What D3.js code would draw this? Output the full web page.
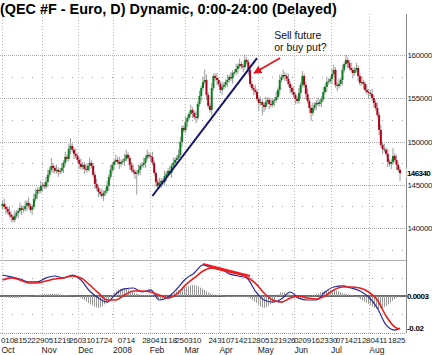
<!DOCTYPE html>
<html><head><meta charset="utf-8">
<script src="https://cdn.jsdelivr.net/npm/d3@7"></script>
<style>body{margin:0;background:#fff} svg{display:block}</style>
</head><body>
<svg id="c" width="432" height="355"></svg>
<script>
// ---------- DATA ----------
const startDate = "2007-10-01", endDate = "2008-08-26";
const holidays = ["2007-11-22","2007-12-25","2008-01-01","2008-01-21","2008-02-18","2008-03-21","2008-05-26","2008-07-04"];
const firstOpen = 142500;
const closes = [
142790,142440,142210,141870,141520,141290,140940,141410,141750,141980,
142330,142100,142210,142560,142910,142560,142100,142440,143370,143950,
144410,144300,144870,144990,144800,145330,146140,146720,147180,146950,
146600,146720,146490,146600,146950,147530,148220,148000,149140,149490,
149030,148570,148330,147870,147410,147060,147300,146830,146720,147180,
147530,147180,146140,145100,144640,144180,143950,143710,144060,144290,
144870,145910,146720,147300,147640,147870,147640,147410,147640,147760,
147990,148450,148100,147300,146720,146490,146260,146370,146720,147180,
147300,147530,148100,148450,148330,148220,147530,146370,145330,144870,
145220,145450,145300,146030,146260,146600,146400,147180,147530,147870,
148100,148450,149950,151570,151300,152260,152720,153190,153650,153300,
152840,152720,154340,155260,156190,156880,157110,155380,154110,153650,
156190,157570,157340,157110,156650,155960,156310,156540,156880,157110,
157460,157300,157920,158040,158380,158730,158960,158700,158610,159420,
159190,158270,156650,156190,155960,155730,154920,154460,154570,154230,
153990,154570,154800,154340,154230,154690,154800,155150,155960,157110,
157460,157690,157570,157230,156650,156190,155730,155380,154920,154690,
155610,156540,157570,156540,155500,154690,153880,153300,153880,154230,
154460,154340,154570,154920,155730,156310,156880,156990,157230,157800,
158270,156540,156420,156650,157110,158270,158960,159420,159070,158500,
158270,157920,158270,158500,157570,156770,156880,156650,155960,155730,
155610,155500,155030,154460,153880,153070,151340,149610,149140,149030,
148570,147640,147410,147640,148330,147870,147300,146720,146340];
const wickHi = [
1,2,1,1,2,1,1,2,1,1, 2,1,1,2,1,2,1,1,2,2, 1,1,2,1,1,2,2,1,3,1, 1,2,1,1,2,1,2,1,2,3,
1,1,2,1,1,2,1,1,2,1, 2,1,1,1,2,1,1,2,1,1, 2,1,2,1,1,2,1,2,1,1, 2,2,1,1,1,2,1,1,2,1,
1,2,1,2,1,1,2,1,1,1, 2,1,1,2,1,1,2,1,2,1, 1,2,2,1,1,2,1,1,2,1, 1,2,1,2,1,2,4,2,1,1,
2,1,1,2,1,1,2,1,1,2, 1,2,1,1,2,1,2,1,1,2, 1,1,2,1,1,2,1,1,2,1, 1,2,1,1,2,1,1,2,1,2,
1,2,1,1,2,1,1,2,1,1, 2,1,2,1,1,2,1,1,2,1, 1,2,1,1,2,1,2,1,1,2, 2,1,1,2,1,2,1,2,1,1,
2,1,1,2,1,1,2,1,1,2, 1,1,2,1,1,2,1,2,1,2, 1,2,1,1,3,1,2,1,1];
const wickLo = [
1,1,2,1,1,2,1,1,1,2, 1,2,1,1,2,1,1,2,1,1, 2,1,1,2,1,1,2,1,1,2, 1,1,2,1,1,2,1,1,1,2,
1,2,1,1,2,1,1,2,1,1, 2,1,1,2,1,2,1,1,2,1, 1,2,1,1,2,1,1,2,1,1, 2,1,1,2,1,1,2,8,1,2,
1,1,2,1,1,2,1,1,2,1, 1,2,1,1,2,1,1,2,1,1, 2,1,1,2,1,1,2,1,1,2, 1,2,1,1,2,1,1,2,1,1,
2,1,1,2,1,1,2,1,1,2, 1,1,2,1,1,2,1,1,2,1, 1,2,1,1,2,1,1,3,1,4, 2,1,1,2,1,1,2,1,1,2,
1,1,2,1,1,2,1,1,2,1, 1,2,1,1,2,1,2,3,1,1, 2,1,1,2,1,1,2,1,1,2, 1,1,2,1,1,2,1,1,2,1,
1,2,1,1,2,1,1,2,1,1, 2,1,1,2,1,1,2,1,2,1, 1,2,1,2,1,1,2,1,3];
const wickUnit = 300;
const lastPrice = 146340;
const priceTicks = [140000,145000,150000,155000,160000];
const priceMinor = [137500,142500,147500,152500,157500];
const dayTickDates = ["2007-10-01","2007-10-08","2007-10-15","2007-10-22","2007-10-29",
 "2007-11-05","2007-11-12","2007-11-19","2007-11-26","2007-12-03","2007-12-10","2007-12-17","2007-12-24",
 "2008-01-07","2008-01-14","2008-01-28","2008-02-04","2008-02-11","2008-02-18","2008-02-25",
 "2008-03-03","2008-03-10","2008-03-24","2008-03-31","2008-04-07","2008-04-14","2008-04-21","2008-04-28",
 "2008-05-05","2008-05-12","2008-05-19","2008-05-26","2008-06-02","2008-06-09","2008-06-16","2008-06-23","2008-06-30",
 "2008-07-07","2008-07-14","2008-07-21","2008-07-28","2008-08-04","2008-08-11","2008-08-18","2008-08-25"];
const monthNames = ["Oct","Nov","Dec","2008","Feb","Mar","Apr","May","Jun","Jul","Aug"];
// MACD panel, sampled every 5 trading days
const macdDays = [0,5,10,15,20,25,30,35,40,45,50,55,60,65,70,75,80,85,90,95,100,105,110,115,120,125,130,135,140,145,150,155,160,165,170,175,180,185,190,195,200,205,210,215,220,225,228];
const macdLine = [0.0131,0.0119,0.0106,0.0088,0.0088,0.0113,0.0125,0.0113,0.0131,0.0100,
 0.0031,-0.0013,-0.0038,0.0013,0.0044,0.0050,0.0025,0.0038,-0.0025,-0.0006,
 0.0044,0.0106,0.0144,0.0194,0.0175,0.0169,0.0138,0.0125,0.0113,0.0031,
 -0.0025,-0.0038,-0.0019,0.0025,-0.0013,-0.0025,-0.0025,0.0025,0.0056,0.0063,
 0.0050,0.0031,-0.0006,-0.0075,-0.0181,-0.0213,-0.0200];
const signalLine = [0.0100,0.0113,0.0100,0.0081,0.0081,0.0094,0.0106,0.0113,0.0125,0.0113,
 0.0069,0.0019,-0.0025,-0.0025,0.0006,0.0031,0.0031,0.0025,0.0006,-0.0013,
 0.0013,0.0069,0.0113,0.0156,0.0175,0.0163,0.0150,0.0138,0.0119,0.0081,
 0.0019,-0.0025,-0.0038,-0.0013,0.0000,-0.0013,-0.0019,0.0000,0.0038,0.0056,
 0.0056,0.0050,0.0025,-0.0025,-0.0125,-0.0194,-0.0206];
const histogram = [-0.0006,-0.0013,-0.0009,-0.0006,0.0006,0.0013,0.0016,0.0006,0.0003,-0.0013,
 -0.0050,-0.0075,-0.0038,0.0031,0.0050,0.0025,0.0006,0.0006,-0.0025,-0.0006,
 0.0031,0.0056,0.0069,0.0044,0.0013,0.0006,-0.0006,-0.0006,-0.0006,-0.0038,
 -0.0075,-0.0038,0.0025,0.0006,-0.0019,-0.0006,0.0013,0.0031,0.0038,0.0019,
 0.0006,-0.0019,-0.0050,-0.0081,-0.0063,-0.0019,0.0003];
// annotations (day index, value)
const trendLine = [[86,143700],[146,159650]];
const arrowPts = [[159.2,159650],[144.3,157920]];
const noteText = ["Sell future","or buy put?"];
const notePos = [155.8,161850,160460];
const macdTrend = [[115,0.0200],[142,0.0125]];
const title = "(QEC #F - Euro, D) Dynamic, 0:00-24:00 (Delayed)";

// ---------- CHART ----------
const svg = d3.select("#c");
const FONT = "'Liberation Sans', Arial, sans-serif";
const parse = d3.utcParse("%Y-%m-%d"), fmt = d3.utcFormat("%Y-%m-%d");
const dates = d3.utcDay.range(parse(startDate), d3.utcDay.offset(parse(endDate),1))
  .filter(d => d.getUTCDay()%6 !== 0 && !holidays.includes(fmt(d))).map(fmt);
const n = dates.length;
const x = d3.scaleLinear().domain([0, n-1]).range([2.5, 400]);
const y = d3.scaleLinear().domain([140000,160000]).range([228,55]);
const ym = d3.scaleLinear().domain([-0.02,0]).range([328,296]);
const idxOf = ds => d3.bisectLeft(dates, ds);
const R = 406, TOP = 14, BOT = 333;

const defs = svg.append("defs");
const pat = defs.append("pattern").attr("id","hist").attr("patternUnits","userSpaceOnUse")
  .attr("width",2).attr("height",4);
pat.append("rect").attr("width",1).attr("height",4).attr("fill","#9a9a9a");

const g = svg.append("g");
// month starts
const monthStarts = [];
dates.forEach((d,i)=>{ if(i===0 || d.slice(0,7)!==dates[i-1].slice(0,7)) monthStarts.push(i); });
g.selectAll(".vg").data(monthStarts).join("line")
  .attr("x1",i=>Math.round(x(i))-0.5).attr("x2",i=>Math.round(x(i))-0.5)
  .attr("y1",TOP).attr("y2",BOT).attr("stroke","#b4b4b4").attr("stroke-dasharray","1,2");
// horizontal grids
g.selectAll(".hg").data(priceTicks).join("line")
  .attr("x1",0).attr("x2",R).attr("y1",d=>Math.round(y(d))+0.5).attr("y2",d=>Math.round(y(d))+0.5)
  .attr("stroke","#a8a8a8").attr("stroke-dasharray","1,1");
g.selectAll(".hm").data(priceMinor).join("line")
  .attr("x1",2).attr("x2",R).attr("y1",d=>Math.round(y(d))+0.5).attr("y2",d=>Math.round(y(d))+0.5)
  .attr("stroke","#999").attr("stroke-dasharray","1,9");
// macd grids
[0.0110,-0.0110].forEach(v=>g.append("line").attr("x1",2).attr("x2",R)
  .attr("y1",Math.round(ym(v))+0.5).attr("y2",Math.round(ym(v))+0.5)
  .attr("stroke","#999").attr("stroke-dasharray","1,9"));
g.append("line").attr("x1",0).attr("x2",R).attr("y1",BOT+0.5).attr("y2",BOT+0.5)
  .attr("stroke","#999").attr("stroke-dasharray","1,1");
g.append("line").attr("x1",0).attr("x2",R).attr("y1",260.5).attr("y2",260.5).attr("stroke","#b0b0b0");
g.append("line").attr("x1",R+0.5).attr("x2",R+0.5).attr("y1",TOP).attr("y2",BOT).attr("stroke","#888");

// candles
const candles = closes.map((c,i)=>{
  const o = i ? closes[i-1] : firstOpen;
  return {i, o, c, h: Math.max(o,c)+wickHi[i]*wickUnit, l: Math.min(o,c)-wickLo[i]*wickUnit};
});
const cg = svg.append("g");
cg.selectAll(".w").data(candles).join("line")
  .attr("x1",d=>x(d.i)).attr("x2",d=>x(d.i)).attr("y1",d=>y(d.h)).attr("y2",d=>y(d.l))
  .attr("stroke","#9a9a9a").attr("stroke-width",1);
cg.selectAll(".b").data(candles).join("rect")
  .attr("x",d=>x(d.i)-1).attr("width",2)
  .attr("y",d=>y(Math.max(d.o,d.c))).attr("height",d=>Math.max(1,Math.abs(y(d.o)-y(d.c))))
  .attr("fill",d=>d.c>=d.o?"#0b7d1e":"#b3001b");

// trend line
svg.append("line").attr("x1",x(trendLine[0][0])).attr("y1",y(trendLine[0][1]))
  .attr("x2",x(trendLine[1][0])).attr("y2",y(trendLine[1][1]))
  .attr("stroke","#14146e").attr("stroke-width",2);

// arrow
defs.append("marker").attr("id","ah").attr("viewBox","0 0 10 10").attr("refX",9).attr("refY",5)
  .attr("markerWidth",5).attr("markerHeight",5).attr("orient","auto-start-reverse")
  .append("path").attr("d","M0,0L10,5L0,10z").attr("fill","#e8101a");
svg.append("line").attr("x1",x(arrowPts[0][0])).attr("y1",y(arrowPts[0][1]))
  .attr("x2",x(arrowPts[1][0])).attr("y2",y(arrowPts[1][1]))
  .attr("stroke","#e8101a").attr("stroke-width",1.6).attr("marker-end","url(#ah)");
svg.selectAll(".note").data(noteText).join("text")
  .attr("x",x(notePos[0])).attr("y",(d,k)=>y(notePos[1+k]))
  .attr("font-family",FONT).attr("font-size",10.5).attr("fill","#111").text(d=>d);

// MACD
const mg = svg.append("g");
mg.append("line").attr("x1",0).attr("x2",R).attr("y1",ym(0)).attr("y2",ym(0))
  .attr("stroke","#3a3a3a").attr("stroke-width",1.5);
const hpts = macdDays.map((d,k)=>[d,histogram[k]]);
mg.append("path").datum(hpts)
  .attr("d",d3.area().x(d=>x(d[0])).y0(ym(0)).y1(d=>ym(d[1])).curve(d3.curveMonotoneX))
  .attr("fill","url(#hist)");
const line = d3.line().x(d=>x(d[0])).y(d=>ym(d[1])).curve(d3.curveMonotoneX);
mg.append("path").datum(macdDays.map((d,k)=>[d,macdLine[k]])).attr("d",line)
  .attr("fill","none").attr("stroke","#2a2a9a").attr("stroke-width",1.2);
mg.append("path").datum(macdDays.map((d,k)=>[d,signalLine[k]])).attr("d",line)
  .attr("fill","none").attr("stroke","#ee1c1c").attr("stroke-width",1.6);
mg.append("line").attr("x1",x(macdTrend[0][0])).attr("y1",ym(macdTrend[0][1]))
  .attr("x2",x(macdTrend[1][0])).attr("y2",ym(macdTrend[1][1]))
  .attr("stroke","#ee1c1c").attr("stroke-width",2);

// right labels
const tg = svg.append("g").attr("font-family",FONT).attr("fill","#222");
tg.selectAll(".pl").data(priceTicks).join("text").attr("x",407.5).attr("y",d=>y(d)+3)
  .attr("font-size",8).attr("letter-spacing",-0.35).text(d=>d);
tg.append("rect").attr("x",406.5).attr("y",y(lastPrice)-5).attr("width",25).attr("height",10).attr("fill","#fff");
tg.append("text").attr("x",407).attr("y",y(lastPrice)+3).attr("font-size",8).attr("font-weight","bold")
  .attr("letter-spacing",-0.6).attr("fill","#000").text(lastPrice);
tg.append("text").attr("x",407).attr("y",ym(0)+3).attr("font-size",8).attr("font-weight","bold")
  .attr("letter-spacing",-0.5).attr("fill","#000").text("0.0003");
tg.append("text").attr("x",407).attr("y",ym(-0.02)+3).attr("font-size",8).attr("font-weight","bold")
  .attr("letter-spacing",-0.3).attr("fill","#000").text("-0.02");

// bottom labels
tg.selectAll(".dl").data(dayTickDates).join("text")
  .attr("x",d=>x(idxOf(d))-1.5).attr("y",343).attr("font-size",8).attr("letter-spacing",-0.3)
  .text(d=>d.slice(8));
tg.selectAll(".ml").data(monthStarts).join("text")
  .attr("x",i=>x(i)-1).attr("y",353).attr("font-size",8.5)
  .text((i,k)=>monthNames[k]);

// title
svg.append("text").attr("x",0).attr("y",13.5).attr("font-family",FONT).attr("font-weight","bold")
  .attr("font-size",14.4).attr("fill","#000").text(title);
</script>
</body></html>
